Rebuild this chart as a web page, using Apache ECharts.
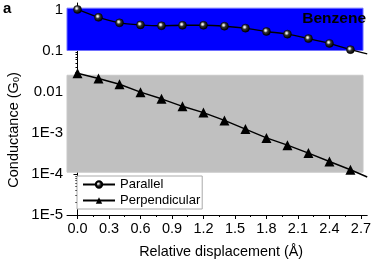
<!DOCTYPE html>
<html><head><meta charset="utf-8">
<script src="https://cdn.jsdelivr.net/npm/echarts@6/dist/echarts.min.js"></script>
<style>html,body{margin:0;padding:0;background:#fff}#c{width:374px;height:264px}</style>
</head><body><div id="c"></div>
<script>
// Data
const xValues = [0.0,0.2,0.4,0.6,0.8,1.0,1.2,1.4,1.6,1.8,2.0,2.2,2.4,2.6];
const parallel = [1.0,0.64,0.47,0.42,0.40,0.41,0.41,0.39,0.35,0.29,0.25,0.195,0.149,0.105];
const perpendicular = [0.028,0.0209,0.0151,0.0097,0.0067,0.0044,0.0031,0.0020,0.00123,0.00075,0.00050,0.00032,0.00020,0.000126];
const fitEndX = 2.76;
const parallelFitEnd = 0.083;
const perpendicularFitEnd = 0.000084;
const xTickLabels = [0.0,0.3,0.6,0.9,1.2,1.5,1.8,2.1,2.4,2.7];
const xMinorTicks = [0.15,0.45,0.75,1.05,1.35,1.65,1.95,2.25,2.55];
const yTickValues = [1e-5,1e-4,1e-3,0.01,0.1,1];
const yTickLabels = ['1E-5','1E-4','1E-3','0.01','0.1','1'];
const yMinorTicks = [];
for (let d = -5; d < 1; d++) for (let m = 2; m <= 9; m++) { const v = m * Math.pow(10, d); if (v < 1.43) yMinorTicks.push(v); }
const blueBand = [0.1, 1.07];
const grayBand = [0.00011, 0.025];
const bandX = [-0.1, 2.72];
const seriesNames = ['Parallel', 'Perpendicular'];

const FONT = "'Liberation Sans', Arial, sans-serif";
const chart = echarts.init(document.getElementById('c'), null, {renderer: 'canvas'});

function mk(xs, ys, endX, endY) {
  const d = xs.map((x, i) => [x, ys[i]]);
  d.push({value: [endX, endY], symbol: 'none'});
  return d;
}
const sphere = {type: 'radial', x: 0.4, y: 0.38, r: 0.6,
  colorStops: [{offset: 0, color: '#ffffff'}, {offset: 0.18, color: '#cccccc'}, {offset: 0.45, color: '#333'}, {offset: 1, color: '#000'}]};

const yBase = {type: 'log', min: 1e-5, max: 1.43, logBase: 10, splitLine: {show: false}};
const xBase = {type: 'value', min: -0.1, max: 2.76, splitLine: {show: false}};

chart.setOption({
  animation: false,
  grid: {left: 67, right: 2, top: 3, bottom: 44.5},
  xAxis: [
    Object.assign({}, xBase, {
      axisLine: {lineStyle: {color: '#000', width: 1}},
      axisTick: {show: true, inside: false, length: 4, lineStyle: {color: '#000'}, customValues: xTickLabels},
      axisLabel: {customValues: xTickLabels, formatter: v => v.toFixed(1), color: '#000', fontSize: 14.5, fontFamily: FONT, margin: 6},
      name: 'Relative displacement (Å)', nameLocation: 'middle', nameGap: 30,
      nameTextStyle: {color: '#000', fontSize: 14.4, fontFamily: FONT, padding: [0, 0, 0, 8]}
    }),
    Object.assign({}, xBase, {
      position: 'bottom', axisLine: {show: false},
      axisTick: {show: true, length: 2, lineStyle: {color: '#000'}, customValues: xMinorTicks},
      axisLabel: {show: false}
    })
  ],
  yAxis: [
    Object.assign({}, yBase, {
      axisLine: {show: true, lineStyle: {color: '#000', width: 1}},
      axisTick: {show: true, length: 4, lineStyle: {color: '#000'}, customValues: yTickValues},
      axisLabel: {customValues: yTickValues, formatter: v => { const i = yTickValues.findIndex(t => Math.abs(Math.log10(t) - Math.log10(v)) < 1e-6); return i >= 0 ? yTickLabels[i] : ''; },
        color: '#000', fontSize: 15, fontFamily: FONT, margin: 4}
    }),
    Object.assign({}, yBase, {
      position: 'left', axisLine: {show: false},
      axisTick: {show: true, length: 2, lineStyle: {color: '#000'}, customValues: yMinorTicks},
      axisLabel: {show: false}
    })
  ],
  legend: {
    orient: 'vertical', left: 77, top: 176,
    backgroundColor: '#fff', borderColor: '#aaa', borderWidth: 1, borderRadius: 0,
    padding: [1, 2, 1, 5], itemGap: 1, itemWidth: 32, itemHeight: 8,
    textStyle: {color: '#000', fontSize: 13, fontFamily: FONT, lineHeight: 15},
    data: seriesNames
  },
  series: [
    {
      name: seriesNames[0], type: 'line', data: mk(xValues, parallel, fitEndX, parallelFitEnd),
      smooth: 0.2, symbol: 'circle', symbolSize: 8, z: 5,
      lineStyle: {color: '#000', width: 1.4},
      itemStyle: {color: sphere, borderColor: '#000', borderWidth: 0.5},
      markArea: {silent: true, z: 1, data: [
        [{coord: [bandX[0], blueBand[0]], itemStyle: {color: '#0000ff', borderColor: '#6f6fff', borderWidth: 1}}, {coord: [bandX[1], blueBand[1]]}],
        [{coord: [bandX[0], grayBand[0]], itemStyle: {color: '#c0c0c0', borderColor: '#c8c8c8', borderWidth: 1}}, {coord: [bandX[1], grayBand[1]]}]
      ]}
    },
    {
      name: seriesNames[1], type: 'line', data: mk(xValues, perpendicular, fitEndX, perpendicularFitEnd),
      symbol: 'triangle', symbolSize: 10, z: 5,
      lineStyle: {color: '#000', width: 1.4},
      itemStyle: {color: '#000'}
    }
  ],
  graphic: [
    {type: 'text', left: 3, top: 1, style: {text: 'a', font: 'bold 15px ' + FONT, fill: '#000'}},
    {type: 'text', x: 366, y: 18.5, z: 10, style: {text: 'Benzene', font: 'bold 15.5px ' + FONT, fill: '#000', align: 'right', verticalAlign: 'middle'}},
    {type: 'text', x: 14, y: 130, rotation: Math.PI / 2, style: {
      text: 'Conductance (G{s|0})', font: '14.5px ' + FONT, fill: '#000', align: 'center', verticalAlign: 'middle',
      rich: {s: {fontSize: 9, fontFamily: FONT, fill: '#000', verticalAlign: 'bottom', padding: [6, 0, 0, 0]}}
    }}
  ]
});
</script></body></html>
